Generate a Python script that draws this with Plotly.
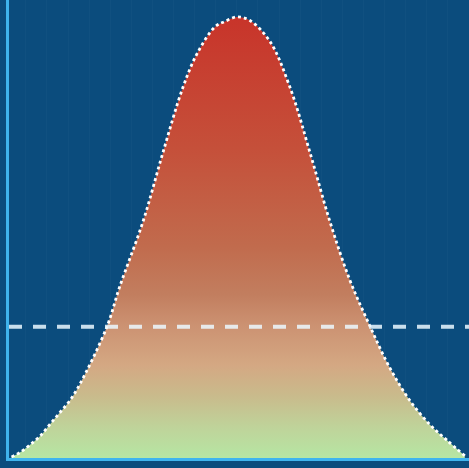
import plotly.graph_objects as go

# Bell curve (x in standard deviations, y as density)
x_vals = [-2.67, -2.57, -2.45, -2.33, -2.22, -2.10, -1.98, -1.86, -1.54, -1.39,
          -1.11, -0.88, -0.64, -0.47, -0.26, -0.14, 0.00, 0.15, 0.39, 0.63,
          0.87, 1.10, 1.34, 1.58, 1.81, 2.05, 2.29, 2.49, 2.70]
y_vals = [0.001, 0.005, 0.012, 0.020, 0.030, 0.041, 0.052, 0.067, 0.119, 0.155,
          0.215, 0.276, 0.336, 0.367, 0.391, 0.396, 0.400, 0.397, 0.378, 0.336,
          0.276, 0.215, 0.161, 0.119, 0.082, 0.052, 0.030, 0.016, 0.002]
threshold = 0.119

BG = "#0b4c7d"
AXIS = "#3fb4ee"

fig = go.Figure()
fig.add_trace(go.Scatter(
    x=x_vals, y=y_vals, mode="lines",
    line=dict(color="white", width=2.8, dash="dot", shape="spline", smoothing=1),
    fill="tozeroy",
    fillgradient=dict(
        type="vertical",
        colorscale=[
            [0.00, "#b6e6a3"],
            [0.07, "#bfd39a"],
            [0.14, "#c9bb8c"],
            [0.21, "#d4a883"],
            [0.30, "#cc9272"],
            [0.37, "#c27e5f"],
            [0.48, "#c16b4d"],
            [0.70, "#c5503a"],
            [1.00, "#c8342a"],
        ],
    ),
    hoverinfo="skip",
    showlegend=False,
))

fig.add_shape(type="line", xref="paper", yref="y", x0=0, x1=1,
              y0=threshold, y1=threshold, layer="above",
              line=dict(color="rgba(235,248,255,0.85)", width=4, dash="13px,11px"))

fig.update_layout(
    width=469, height=468,
    margin=dict(l=9, r=0, t=0, b=10),
    paper_bgcolor=BG, plot_bgcolor=BG,
    showlegend=False,
    hovermode=False,
    xaxis=dict(range=[-2.70, 2.75], showticklabels=False, ticks="",
               showgrid=True, dtick=0.25, gridcolor="rgba(255,255,255,0.025)",
               gridwidth=1, zeroline=False,
               showline=True, linecolor=AXIS, linewidth=3),
    yaxis=dict(range=[0, 0.4154], showticklabels=False, ticks="",
               showgrid=False, zeroline=False,
               showline=True, linecolor=AXIS, linewidth=3),
)

fig.write_html(
    "out.html",
    config={"displayModeBar": False},
    post_script="document.body.style.margin='0';document.body.style.background='%s';" % BG,
)
